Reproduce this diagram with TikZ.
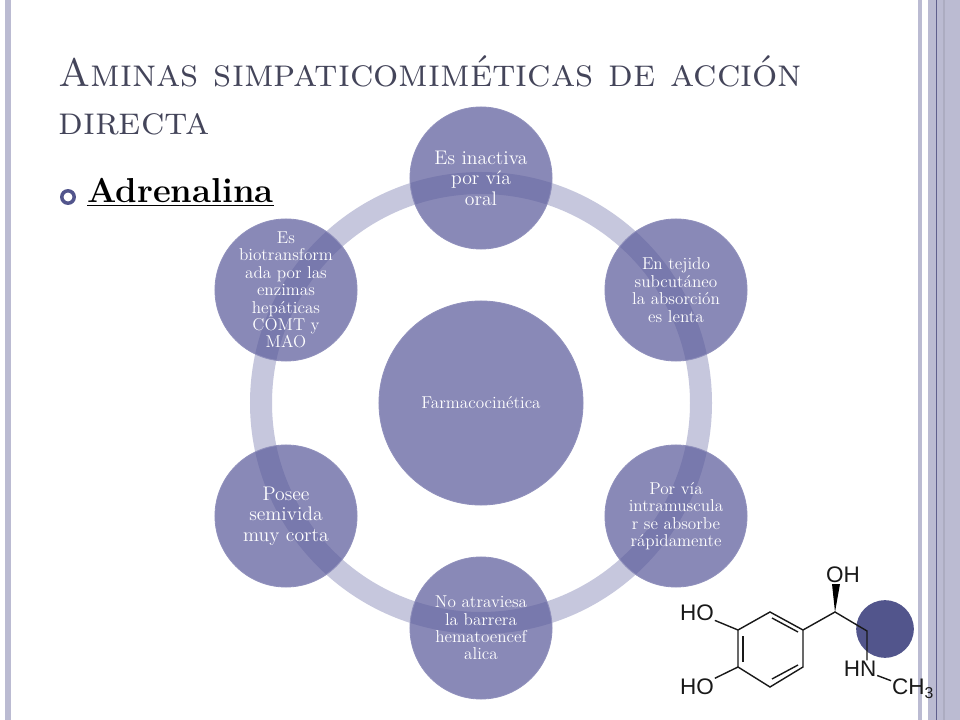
\documentclass[tikz,border=0pt]{standalone}
\usepackage{fontspec}
\setsansfont{Liberation Sans}
\usepackage{tikz}
\definecolor{framecol}{HTML}{BBBBD2}
\definecolor{framedark}{HTML}{5F5F8C}
\definecolor{ringcol}{HTML}{C6C7DD}
\definecolor{ballcol}{HTML}{585899}
\definecolor{ballrim}{HTML}{9090BC}
\definecolor{titlecol}{HTML}{44455A}
\definecolor{spotcol}{HTML}{52558C}
\newcommand{\cyclept}[4][]{\node[ball,#1] at (#2) (#3) {#4}}
\newcommand{\molpt}[3]{\node[mollabel] at (#1) (#2) {#3}}
\tikzset{
	ball/.style={circle,preaction={fill=ballcol,fill opacity=0.7},draw=ballrim,line width=0.6pt,text=white,align=center,inner sep=-0.5cm,minimum size=3.55cm,font=\fontsize{12.2}{12.4}\selectfont},
	bigtext/.style={font=\fontsize{14}{14.6}\selectfont},
	titletext/.style={anchor=base west,inner sep=0pt,text=titlecol,font=\fontsize{28.2}{28.2}\selectfont\scshape},
	mollabel/.style={font=\sffamily\fontsize{16}{16}\selectfont,text=black!90,inner sep=0.5pt},
	bond/.style={line width=1pt,black!90},
}

\begin{document}
\begin{tikzpicture}[x=0.025cm,y=-0.025cm]
			\useasboundingbox (0,0) rectangle (960,720);
			\fill[white] (0,0) rectangle (960,720);
			
			% slide frame
			\fill[framecol] (5,0) rectangle (11,720);
			\fill[framecol] (918,0) rectangle (922,720);
			\fill[framecol] (928,0) rectangle (960,720);
			\fill[framedark] (936,0) rectangle (937,720);
			\fill[framecol!92!black] (943,0) rectangle (945,720);
			
			% title and bullet
			\node[titletext] at (58,87) (title1) {Aminas simpaticomiméticas de acción};
			\node[titletext] at (58,135) (title2) {directa};
			\node[circle,draw=spotcol,line width=2.5pt,fill=white,inner sep=0pt,minimum size=0.31cm] at (68,197) (bullet) {};
			\node[anchor=base west,inner sep=0pt,font=\fontsize{24.6}{24.6}\selectfont\bfseries] at (87,203) (subject) {\underline{Adrenalina}};
			
			% ring and circles
			\coordinate (hub) at (481,403);
			\draw[ringcol,line width=0.55cm] (hub) circle [radius=220];
			
			\cyclept[minimum size=5.1cm]{hub}{center}{Farmacocinética};
			\cyclept[bigtext]{481,178}{oral}{Es inactiva\\por vía\\oral};
			\cyclept{676,290}{subcut}{En tejido\\subcutáneo\\la absorción\\es lenta};
			\cyclept{676,516}{intram}{Por vía\\intramuscula\\r se absorbe\\rápidamente};
			\cyclept{481,628}{barrera}{No atraviesa\\la barrera\\hematoencef\\alica};
			\cyclept[bigtext]{286,516}{semivida}{Posee\\semivida\\muy corta};
			\cyclept{286,290}{enzimas}{Es\\biotransform\\ada por las\\enzimas\\hepáticas\\COMT y\\MAO};
			
			% molecule
			\node[circle,fill=spotcol,inner sep=0pt,minimum size=1.44cm] at (885,629) (spot) {};
			\molpt{697,613}{hotop}{HO};
			\molpt{697,687}{hobot}{HO};
			\molpt{843,575}{ohtop}{OH};
			\molpt{860,669}{hn}{HN};
			\node[mollabel] at (913,689) (methyl) {CH\textsubscript{3}};
			\coordinate (a1) at (770,612);
			\coordinate (a2) at (803,630);
			\coordinate (a3) at (803,667);
			\coordinate (a4) at (770,687);
			\coordinate (a5) at (738,667);
			\coordinate (a6) at (738,630);
			\coordinate (b1) at (772,618);
			\coordinate (b2) at (798,632);
			\coordinate (b3) at (798,665);
			\coordinate (b4) at (772,679);
			\coordinate (b5) at (743,662);
			\coordinate (b6) at (743,636);
			\coordinate (chiral) at (835,612);
			\coordinate (ch2) at (867,631);
			\coordinate (wl) at (832,584);
			\coordinate (wr) at (840,584);
			\draw[bond] (a1) -- (a2) -- (a3) -- (a4) -- (a5) -- (a6) -- cycle;
			\draw[bond] (b1) -- (b2);
			\draw[bond] (b3) -- (b4);
			\draw[bond] (b5) -- (b6);
			\draw[bond] (hotop) -- (a6);
			\draw[bond] (hobot) -- (a5);
			\draw[bond] (a2) -- (chiral) -- (ch2) -- (ch2 |- hn.north);
			\draw[bond] (hn) -- (methyl);
			\fill[black] (chiral) -- (wl) -- (wr) -- cycle;
			
			\end{tikzpicture}
\end{document}
